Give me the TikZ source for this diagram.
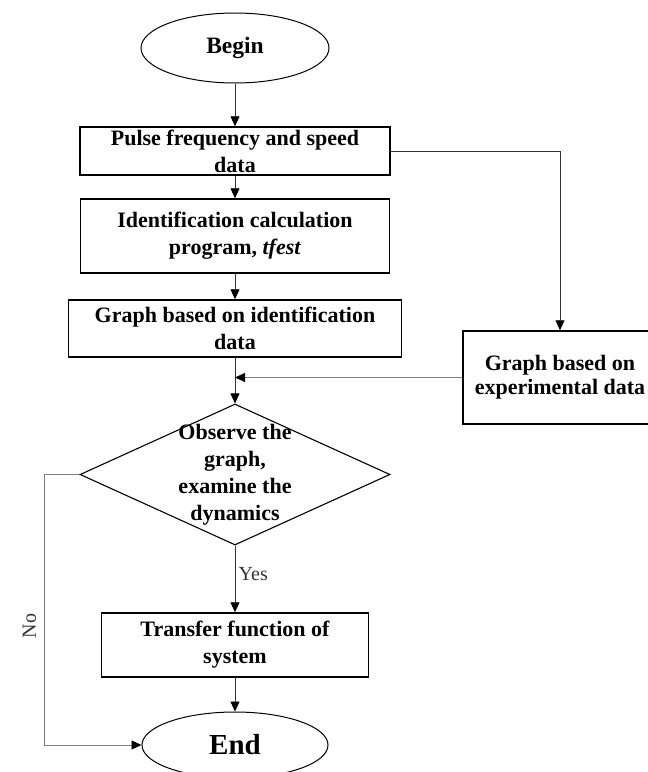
\documentclass[tikz,border=0pt]{standalone}
\usepackage{fontspec}
\setmainfont{Liberation Serif}
\usepackage{tikz}
\usetikzlibrary{arrows.meta,positioning,shapes.geometric,calc}
\definecolor{flowline}{RGB}{50,50,50}
\definecolor{flowgray}{RGB}{125,125,125}

\begin{document}
\begin{tikzpicture}[x=1pt, y=-1pt,
  procbox/.style={draw=black, line width=1.5pt, inner xsep=2pt, inner ysep=0pt,
    align=center, font=\fontsize{22}{27}\selectfont\bfseries},
  termnode/.style={draw=black, ellipse, line width=1pt, inner sep=0pt},
  decision/.style={draw=black, diamond, line width=1.1pt, inner sep=0pt},
  arr/.style={-{Triangle[length=10pt,width=9pt,color=black]}, flowline, line width=0.8pt},
  lbl/.style={font=\fontsize{20}{24}\selectfont, text=flowline}]

\useasboundingbox (0,0) rectangle (648,772);

\node[termnode, minimum width=188pt, minimum height=70pt,
  font=\fontsize{23.5}{27}\selectfont\bfseries] (begin) at (235,48) {Begin};
\node[procbox, minimum width=310pt, minimum height=48pt] (pulse) at (235,151)
  {Pulse frequency and speed\\data};
\node[procbox, minimum width=309pt, minimum height=74pt] (ident) at (235,236)
  {Identification calculation\\program, \textit{tfest}};
\node[procbox, minimum width=333pt, minimum height=57pt] (graphid) at (235,328.5)
  {Graph based on identification\\data};
\node[procbox, minimum width=194pt, minimum height=93pt,
  font=\fontsize{22}{24}\selectfont\bfseries] (graphexp) at (560,377.5)
  {Graph based on\\experimental data};

% decision diamond, text set on top of it
\node[decision, minimum width=310pt, minimum height=141pt] (decide) at (235,474.5) {};
\node[align=center, font=\fontsize{22}{27}\selectfont\bfseries] (decidetxt)
  at (decide.center) {Observe the\\graph,\\examine the\\dynamics};

\node[procbox, minimum width=267pt, minimum height=64pt] (transfer) at (235,645)
  {Transfer function of\\system};
\node[termnode, minimum width=186pt, minimum height=66pt,
  font=\fontsize{29}{32}\selectfont\bfseries] (end) at (235,745) {End};

\draw[arr] (begin.south) -- (pulse.north);
\draw[arr] (pulse.south) -- (ident.north);
\draw[arr] (ident.south) -- (graphid.north);
\draw[arr] (graphid.south) -- (decide.north);
\draw[arr] (pulse.east) -| (graphexp.north);
\draw[arr, flowgray] (graphexp.west) -- (graphexp.west -| graphid.south);
\draw[arr] (decide.south) -- node[lbl, right, pos=0.42] (yeslbl) {Yes} (transfer.north);
\draw[arr] (transfer.south) -- (end.north);
\draw[arr, flowgray] (decide.west) -- ++(-35,0) |-
  node[lbl, rotate=90, anchor=south, pos=0.28, inner sep=8pt] (nolbl) {No} (end.west);

\end{tikzpicture}
\end{document}
